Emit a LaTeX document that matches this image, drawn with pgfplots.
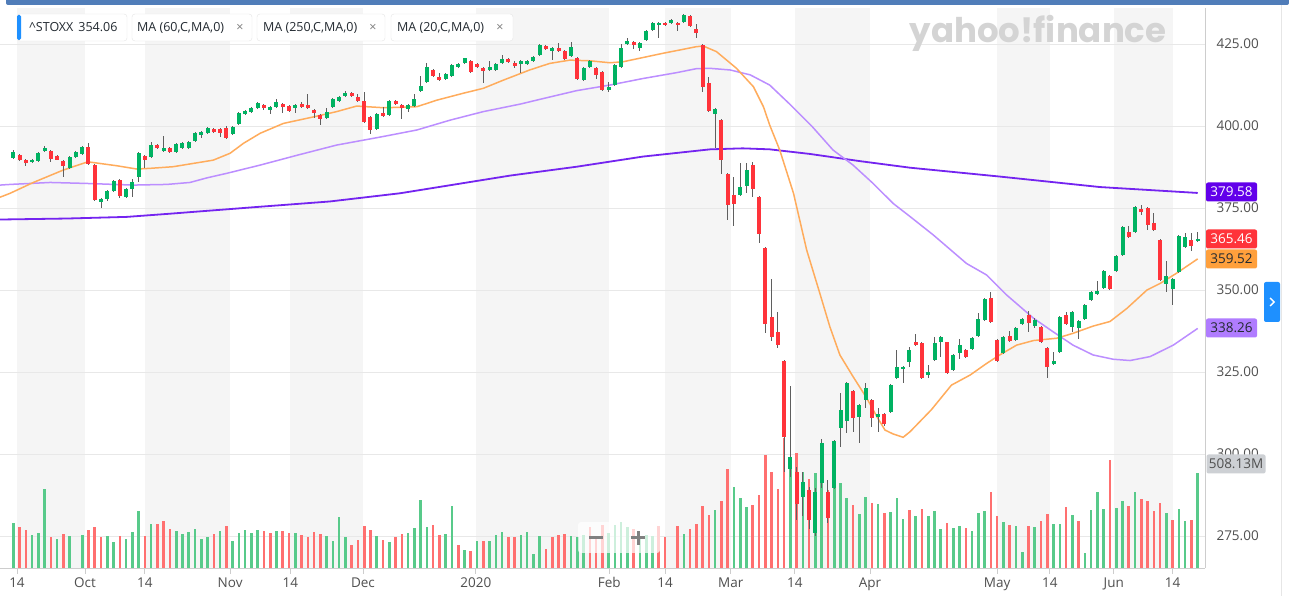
\documentclass[border=0pt]{standalone}
\usepackage{fontspec}
\setmainfont{Open Sans}
\newfontfamily\logofont{Poppins}
\usepackage{pgfplots}
\usepackage{pgfplotstable}
\pgfplotsset{compat=1.18}

\definecolor{upg}{RGB}{0,178,98}
\definecolor{dnr}{RGB}{255,51,58}
\definecolor{wick}{RGB}{95,95,95}
\definecolor{volg}{RGB}{88,202,138}
\definecolor{volr}{RGB}{255,112,112}
\definecolor{band}{RGB}{245,245,245}
\definecolor{gridc}{RGB}{232,232,232}
\definecolor{axisgray}{RGB}{205,205,205}
\definecolor{labgray}{RGB}{80,80,80}
\definecolor{ma20}{RGB}{255,172,92}
\definecolor{ma60}{RGB}{188,142,255}
\definecolor{ma250}{RGB}{116,36,240}
\definecolor{tag250}{RGB}{98,0,234}
\definecolor{tag20}{RGB}{255,160,60}
\definecolor{tag60}{RGB}{176,124,255}
\definecolor{taggray}{RGB}{205,208,212}
\definecolor{btnblue}{RGB}{30,144,255}
\definecolor{topbar}{RGB}{80,125,185}
\definecolor{chipline}{RGB}{230,230,230}
\definecolor{chiptext}{RGB}{35,42,49}
\definecolor{logogray}{RGB}{212,212,212}

% daily candles: index, open, high, low, close, volume (M), volume up flag
\pgfplotstableread{
i o h l c v u
0 390.4 392.6 390.1 392.0 243 1
1 391.2 391.5 389.4 389.7 222 0
2 389.6 389.9 387.9 388.8 204 0
3 388.9 390.0 388.6 389.7 175 1
4 389.4 392.2 389.1 391.9 186 1
5 392.5 393.8 392.2 393.4 424 1
6 392.5 392.8 389.1 390.1 165 0
7 390.9 391.2 389.5 389.8 158 1
8 389.3 389.6 384.5 387.7 181 0
9 387.3 390.8 387.0 390.5 170 1
10 390.5 392.3 390.2 392.0 0 1
11 391.6 394.0 391.3 393.5 175 1
12 393.7 394.7 388.1 388.3 204 0
13 388.1 388.4 377.3 377.6 220 0
14 376.8 378.0 374.9 377.7 165 0
15 377.8 380.6 377.3 380.3 170 1
16 380.3 383.4 379.8 383.1 141 1
17 383.5 383.8 378.0 378.8 170 0
18 378.5 381.1 378.2 380.8 154 1
19 380.8 383.8 378.4 382.8 193 1
20 384.4 392.2 383.0 391.9 306 1
21 391.0 391.3 387.3 389.8 170 0
22 390.6 395.2 390.3 394.2 236 1
23 394.2 394.5 392.9 393.2 236 0
24 392.5 397.0 392.2 393.3 254 0
25 393.4 393.7 391.7 392.0 209 0
26 392.2 394.7 391.9 394.4 199 1
27 393.2 395.0 392.9 394.7 181 1
28 393.4 395.5 393.1 395.2 192 1
29 395.5 398.1 395.2 397.8 209 1
30 397.3 398.6 396.5 398.3 158 1
31 397.9 399.6 397.6 399.3 165 1
32 399.0 399.3 398.0 398.3 181 0
33 399.0 399.3 396.7 398.0 199 1
34 399.3 400.1 396.1 396.4 226 0
35 397.6 400.0 397.3 399.7 147 1
36 400.5 404.2 400.2 403.9 186 1
37 403.6 405.0 403.3 404.7 204 1
38 404.2 405.7 403.9 405.4 186 1
39 405.6 407.2 405.3 406.9 204 1
40 406.3 406.6 404.9 405.5 199 0
41 404.9 406.1 403.7 405.8 186 0
42 405.9 408.1 405.6 407.4 199 1
43 406.7 407.0 403.9 405.7 199 0
44 406.1 406.4 404.4 404.7 186 0
45 405.5 406.6 403.9 406.3 186 1
46 406.8 407.4 405.5 405.8 175 0
47 406.3 409.7 405.1 405.4 168 0
48 404.9 405.2 402.6 403.9 193 0
49 403.5 403.8 400.3 402.3 181 0
50 402.6 405.6 402.3 404.4 170 1
51 405.7 408.7 405.4 408.4 147 1
52 407.6 409.3 407.3 409.0 272 1
53 409.1 410.7 408.8 410.2 165 1
54 410.0 410.3 408.8 409.1 124 0
55 409.0 409.8 407.4 407.7 152 0
56 407.7 410.3 401.0 401.3 226 0
57 402.8 403.1 397.6 398.8 204 0
58 399.0 403.9 398.7 403.6 170 1
59 403.9 405.7 402.7 403.0 152 0
60 403.3 408.0 403.0 407.7 141 1
61 407.6 407.9 406.4 406.7 165 0
62 406.3 406.6 402.0 405.4 181 0
63 405.1 406.7 404.4 406.4 186 1
64 406.2 409.8 405.9 408.1 215 1
65 410.7 415.2 410.4 412.2 363 1
66 413.3 419.1 413.0 418.1 222 1
67 417.1 417.4 415.1 415.4 231 0
68 415.0 416.3 413.6 413.9 175 0
69 414.2 416.1 413.9 415.8 181 1
70 415.2 419.0 414.9 418.7 335 1
71 417.9 419.1 417.6 418.8 124 0
72 419.3 420.9 419.0 420.6 97 1
73 419.8 420.1 416.3 416.6 91 0
74 419.0 419.3 417.8 418.1 147 1
75 417.7 418.0 413.2 416.9 147 0
76 417.1 419.9 416.8 418.1 147 1
77 417.1 419.2 416.8 418.9 175 1
78 419.1 421.8 418.8 420.3 193 1
79 420.5 420.8 419.1 419.4 165 0
80 419.1 419.7 417.8 418.2 165 0
81 418.8 420.2 416.1 419.9 175 1
82 418.9 420.2 418.6 419.9 193 1
83 419.8 421.4 419.5 421.1 73 1
84 421.7 425.1 421.4 424.8 170 1
85 424.5 424.8 423.3 423.6 102 0
86 423.0 424.1 420.1 423.8 165 0
87 423.8 425.4 422.7 423.0 175 0
88 422.8 423.1 420.0 420.3 181 0
89 421.3 425.7 421.0 424.2 170 1
90 420.8 421.1 413.9 414.2 168 1
91 414.0 418.0 413.7 417.7 177 1
92 418.1 420.1 417.8 419.8 222 0
93 417.6 417.9 414.2 415.5 174 0
94 416.4 416.7 410.7 411.0 231 0
95 411.0 413.5 410.5 412.0 186 1
96 412.5 418.9 412.2 418.6 231 1
97 418.1 424.9 417.8 423.9 249 1
98 425.0 426.7 424.7 425.9 222 1
99 425.6 425.9 423.4 424.6 208 0
100 423.9 425.5 422.9 425.2 168 1
101 426.2 429.3 425.9 429.0 175 1
102 429.3 431.8 429.0 431.5 170 1
103 430.8 431.8 426.7 431.5 226 0
104 431.5 431.8 430.4 430.7 165 0
105 431.3 432.6 431.0 432.3 0 1
106 431.3 431.6 429.1 430.8 226 0
107 431.7 434.3 431.4 434.0 181 1
108 433.7 434.0 430.2 430.5 209 0
109 429.6 431.1 426.7 428.3 236 0
110 424.7 425.0 410.5 412.0 335 0
111 413.2 415.0 404.4 404.7 283 0
112 403.7 405.4 393.2 405.1 311 1
113 401.8 402.1 385.4 389.6 362 0
114 385.4 385.7 371.5 375.9 532 0
115 379.0 384.6 369.5 376.2 437 1
116 378.9 388.6 378.6 381.3 374 1
117 381.7 388.8 379.7 386.6 329 1
118 388.1 389.1 378.5 380.8 338 0
119 378.3 378.6 364.2 367.1 392 0
120 362.7 363.0 336.8 339.6 607 0
121 341.7 353.5 334.6 335.8 514 0
122 337.3 343.4 332.2 333.2 424 0
123 328.3 328.6 294.6 305.3 700 0
124 295.5 320.7 293.0 299.1 598 1
125 294.6 296.0 280.0 284.9 618 0
126 287.0 294.6 281.0 291.5 517 1
127 289.0 290.0 277.0 279.9 478 0
128 276.0 289.5 275.0 288.3 510 1
129 291.2 304.5 289.5 303.4 560 1
130 288.5 292.1 278.9 280.4 420 0
131 289.5 304.3 289.2 304.0 456 1
132 307.8 318.5 302.2 313.4 456 1
133 310.2 321.9 306.3 321.6 376 1
134 319.3 319.6 306.8 311.1 338 0
135 311.4 315.2 303.3 314.9 290 1
136 316.5 321.5 313.9 320.0 383 1
137 316.5 316.8 308.3 310.9 349 0
138 311.4 313.9 306.8 312.1 344 1
139 312.1 312.4 308.5 309.1 295 0
140 312.7 321.3 312.4 321.0 302 1
141 323.3 331.7 323.0 326.6 376 1
142 326.0 326.9 321.8 326.6 262 1
143 328.1 332.7 326.6 331.7 311 0
144 334.1 336.5 332.9 333.2 279 1
145 333.7 334.0 322.8 323.1 317 0
146 324.1 327.1 323.1 324.9 279 1
147 328.7 335.8 328.4 333.7 308 1
148 334.2 336.1 329.7 335.8 209 1
149 334.0 334.3 324.3 324.6 240 0
150 325.6 330.5 325.3 330.2 217 1
151 330.7 335.2 329.0 333.2 226 1
152 331.7 332.0 329.4 329.7 217 0
153 332.0 335.8 331.7 335.5 199 1
154 336.0 342.9 335.7 341.1 297 1
155 340.9 347.5 340.6 347.2 308 1
156 347.7 349.3 339.8 340.1 410 0
157 334.9 335.2 328.2 328.5 279 0
158 330.7 335.9 330.4 335.6 249 1
159 336.0 337.5 334.3 334.6 231 0
160 334.8 338.6 334.5 338.3 226 1
161 339.5 341.5 339.2 341.2 84 1
162 342.4 343.6 337.1 340.0 226 0
163 339.0 341.6 338.3 340.8 218 1
164 338.8 339.1 333.9 334.2 254 0
165 332.2 332.5 323.1 326.6 290 0
166 327.3 331.2 327.0 328.5 236 1
167 331.0 342.2 330.7 341.9 236 1
168 342.4 343.4 339.2 339.5 329 0
169 338.8 343.5 337.3 343.2 285 1
170 338.5 340.8 335.1 340.5 251 0
171 341.2 345.7 340.9 345.4 79 1
172 346.9 349.6 346.6 349.3 311 1
173 348.7 352.7 348.4 349.8 410 1
174 350.7 356.1 350.4 355.8 317 1
175 354.4 354.7 350.0 350.3 580 0
176 355.9 360.7 355.6 360.4 320 1
177 360.7 369.6 360.4 369.3 362 1
178 367.8 369.6 366.0 366.3 333 0
179 367.6 375.7 367.3 375.4 410 1
180 374.7 376.0 372.9 373.7 369 0
181 374.9 375.2 368.3 369.8 362 0
182 370.3 373.4 368.0 368.3 308 0
183 365.2 365.5 352.7 353.0 347 0
184 351.7 359.0 349.3 354.3 297 1
185 350.3 353.6 345.4 353.3 258 0
186 355.4 366.9 355.1 366.6 317 1
187 363.2 367.3 362.9 366.3 254 1
188 365.2 367.3 361.9 363.5 256 0
189 364.9 367.8 364.6 365.5 508 1
}\stoxx

% moving averages
\pgfplotstableread{
x y
-2.12 378.3
-0.5 379.5
3.2 382.8
8.0 386.6
11.9 389.1
13.8 388.6
16.5 387.9
19.7 386.9
21.8 387.1
25.5 387.6
28.7 388.6
31.9 389.6
34.6 391.7
36.7 394.7
39.4 397.8
43.1 400.8
48.4 403.0
51.6 404.4
54.8 406.1
56.4 405.9
59.0 405.6
61.7 405.7
64.4 405.9
67.6 407.9
71.8 410.0
75.0 411.5
78.2 414.0
82.4 417.1
85.6 419.1
88.8 420.1
92.0 419.9
95.2 419.3
97.3 419.6
100.5 420.9
103.7 422.2
106.9 423.4
109.0 424.2
110.1 424.4
112.2 422.7
115.4 417.6
118.1 412.0
119.7 405.9
120.7 400.3
122.3 392.7
124.5 379.5
126.6 362.2
128.7 349.0
130.3 338.8
131.9 330.2
134.0 323.6
136.2 317.0
137.8 311.4
139.1 307.3
140.4 306.1
142.0 305.1
143.1 306.8
146.5 313.5
149.7 321.0
152.7 324.1
155.3 327.6
157.4 330.2
160.1 333.2
162.8 334.6
166.5 335.3
169.1 336.8
172.3 339.0
175.0 340.4
177.7 344.4
180.9 350.0
183.0 352.0
185.6 355.1
189.0 359.5
}\matwenty

\pgfplotstableread{
x y
-2.12 382.0
-0.5 382.2
5.9 382.8
11.7 382.5
19.1 382.0
24.5 382.2
28.2 382.8
30.9 384.2
34.1 385.6
39.4 388.1
45.5 391.2
51.6 394.2
59.0 396.8
64.4 398.8
69.7 401.8
75.0 404.4
80.9 406.7
84.6 408.4
89.9 410.8
95.2 412.5
100.5 414.5
105.9 416.3
109.0 417.5
111.2 417.6
114.4 417.1
117.6 415.6
120.7 412.5
124.0 406.5
127.5 399.8
130.8 392.7
134.0 388.1
137.2 382.5
140.4 376.4
143.1 372.4
146.8 366.8
152.1 358.1
155.3 354.6
158.5 348.5
162.8 341.4
165.9 337.3
169.1 333.2
172.3 330.2
175.5 328.9
178.2 328.5
181.4 329.7
185.1 333.2
189.0 338.3
}\masixty

\pgfplotstableread{
x y
-2.12 371.5
8.5 371.8
18.1 372.3
24.5 373.2
39.4 375.4
50.5 377.0
61.7 379.5
79.3 384.9
89.9 387.6
100.5 390.7
111.2 392.9
116.4 393.2
120.7 392.9
127.1 391.5
135.1 389.3
143.1 387.3
157.4 384.6
173.4 381.4
189.0 379.6
}\matwofifty

\begin{document}
\begin{tikzpicture}
\path[use as bounding box, fill=white] (0pt,0pt) rectangle (1289pt,596pt);

\pgfplotsset{frame/.style={at={(0pt,28pt)}, anchor=south west, scale only axis,
  width=1205pt, height=560pt, xmin=-2.12, xmax=190.16, clip=true}}

% --- layer 1: month bands, grid, ticks
\begin{axis}[frame, ymin=265.24, ymax=436.0,
  axis x line*=bottom, axis y line*=right,
  axis line style={-, draw=axisgray, line width=0.8pt},
  xtick={0.59,11.44,21.0,34.6,44.2,55.8,73.8,95.1,104.0,114.5,124.7,136.7,157.0,165.4,175.6,185.0},
  xticklabels={14,Oct,14,Nov,14,Dec,2020,Feb,14,Mar,14,Apr,May,14,Jun,14},
  ytick={275,300,325,350,375,400,425},
  tick align=outside, major tick length=6pt,
  xtick style={draw=axisgray, line width=0.8pt},
  ytick style={draw=none},
  tick label style={font=\fontsize{13.5}{15}\selectfont, text=labgray},
  yticklabel style={/pgf/number format/.cd, fixed, fixed zerofill, precision=2, assume math mode=true, /tikz/.cd, xshift=2pt},
]
\fill[band] (axis cs:0.59,265.24) rectangle (axis cs:11.44,436);
\fill[band] (axis cs:21.0,265.24) rectangle (axis cs:34.6,436);
\fill[band] (axis cs:44.2,265.24) rectangle (axis cs:55.8,436);
\fill[band] (axis cs:73.8,265.24) rectangle (axis cs:95.1,436);
\fill[band] (axis cs:104.0,265.24) rectangle (axis cs:114.5,436);
\fill[band] (axis cs:124.7,265.24) rectangle (axis cs:136.7,436);
\fill[band] (axis cs:157.0,265.24) rectangle (axis cs:165.4,436);
\fill[band] (axis cs:175.6,265.24) rectangle (axis cs:185.0,436);
\pgfplotsinvokeforeach{275,300,325,350,375,400,425}{
  \draw[gridc, line width=0.8pt] (axis cs:-2.12,#1) -- (axis cs:190.16,#1);
}
\end{axis}

% --- layer 2: volume
\begin{axis}[frame, hide axis, ymin=0, ymax=3007]
\addplot[ycomb, draw=volg, line width=2.6pt,
  restrict expr to domain={\thisrow{u}}{0.5:1.5}] table[x=i, y=v] {\stoxx};
\addplot[ycomb, draw=volr, line width=2.6pt,
  restrict expr to domain={\thisrow{u}}{-0.5:0.5}] table[x=i, y=v] {\stoxx};
\end{axis}

% --- layer 3: moving averages and candles
\begin{axis}[frame, hide axis, ymin=265.24, ymax=436.0]
\addplot[ma250, line width=1.8pt] table[x=x, y=y] {\matwofifty};
\addplot[ma60, line width=1.5pt] table[x=x, y=y] {\masixty};
\addplot[ma20, line width=1.5pt] table[x=x, y=y] {\matwenty};
% wicks
\addplot[draw=none, error bars/.cd, y dir=both, y explicit, error mark=none,
  error bar style={draw=wick, line width=1pt}]
  table[x=i, y expr={(\thisrow{h}+\thisrow{l})/2}, y error expr={(\thisrow{h}-\thisrow{l})/2}] {\stoxx};
% bodies
\addplot[draw=none, restrict expr to domain={\thisrow{c}-\thisrow{o}}{0:1000},
  error bars/.cd, y dir=both, y explicit, error mark=none,
  error bar style={draw=upg, line width=4pt}]
  table[x=i, y expr={(\thisrow{o}+\thisrow{c})/2}, y error expr={max(abs(\thisrow{c}-\thisrow{o})/2,0.2)}] {\stoxx};
\addplot[draw=none, restrict expr to domain={\thisrow{c}-\thisrow{o}}{-1000:-0.001},
  error bars/.cd, y dir=both, y explicit, error mark=none,
  error bar style={draw=dnr, line width=4pt}]
  table[x=i, y expr={(\thisrow{o}+\thisrow{c})/2}, y error expr={max(abs(\thisrow{c}-\thisrow{o})/2,0.2)}] {\stoxx};
\end{axis}

% --- chrome around the chart
\fill[topbar, rounded corners=2pt] (6pt,591pt) rectangle (1289pt,600pt);
\draw[chipline, line width=0.8pt] (1281pt,0pt) -- (1281pt,591pt);

% series chips
\begin{scope}[font=\fontsize{12.5}{14}\selectfont]
\draw[chipline, fill=white, rounded corners=3pt] (17pt,555pt) rectangle (127pt,582pt);
\fill[btnblue, rounded corners=1.5pt] (17pt,556pt) rectangle (21pt,581pt);
\node[anchor=west, text=chiptext, inner sep=0pt] at (29pt,568.5pt) {\textasciicircum STOXX\hspace{5pt}354.06};
\draw[chipline, fill=white, rounded corners=3pt] (132pt,555pt) rectangle (252pt,582pt);
\node[anchor=west, text=chiptext, inner sep=0pt] at (137pt,568.5pt) {MA (60,C,MA,0)};
\node[text=gray, inner sep=0pt] at (240pt,568.5pt) {×};
\draw[chipline, fill=white, rounded corners=3pt] (257pt,555pt) rectangle (385pt,582pt);
\node[anchor=west, text=chiptext, inner sep=0pt] at (263pt,568.5pt) {MA (250,C,MA,0)};
\node[text=gray, inner sep=0pt] at (373pt,568.5pt) {×};
\draw[chipline, fill=white, rounded corners=3pt] (391pt,555pt) rectangle (513pt,582pt);
\node[anchor=west, text=chiptext, inner sep=0pt] at (397pt,568.5pt) {MA (20,C,MA,0)};
\node[text=gray, inner sep=0pt] at (500pt,568.5pt) {×};
\end{scope}

% watermark
\node[text=logogray, inner sep=0pt, font=\logofont\bfseries\fontsize{34}{34}\selectfont] at (1038pt,563pt) {yahoo!finance};

% last-value tags
\begin{scope}[every node/.style={rounded corners=2pt, minimum width=51pt, minimum height=19pt, inner sep=0pt, font=\fontsize{13.5}{15}\selectfont}]
\node[fill=tag250, text=white] at (1231.5pt,404pt) {379.58};
\node[fill=dnr, text=white] at (1231.5pt,357pt) {365.46};
\node[fill=tag20, text=chiptext] at (1231.5pt,337pt) {359.52};
\node[fill=tag60, text=chiptext] at (1231.5pt,268pt) {338.26};
\node[fill=taggray, text=labgray, minimum width=59pt] at (1236pt,132pt) {508.13M};
\end{scope}

% side button
\fill[btnblue, rounded corners=2pt] (1264pt,274pt) rectangle (1280pt,314pt);
\draw[white, line width=1.4pt] (1270pt,298pt) -- (1274pt,294pt) -- (1270pt,290pt);

% zoom widget
\fill[white, opacity=0.7, rounded corners=3pt] (578pt,43pt) rectangle (660pt,74pt);
\draw[gray, line width=3pt] (589pt,58pt) -- (603pt,58pt);
\draw[gray, line width=3pt] (631pt,58pt) -- (645pt,58pt);
\draw[gray, line width=3pt] (638pt,51pt) -- (638pt,65pt);
\end{tikzpicture}
\end{document}
